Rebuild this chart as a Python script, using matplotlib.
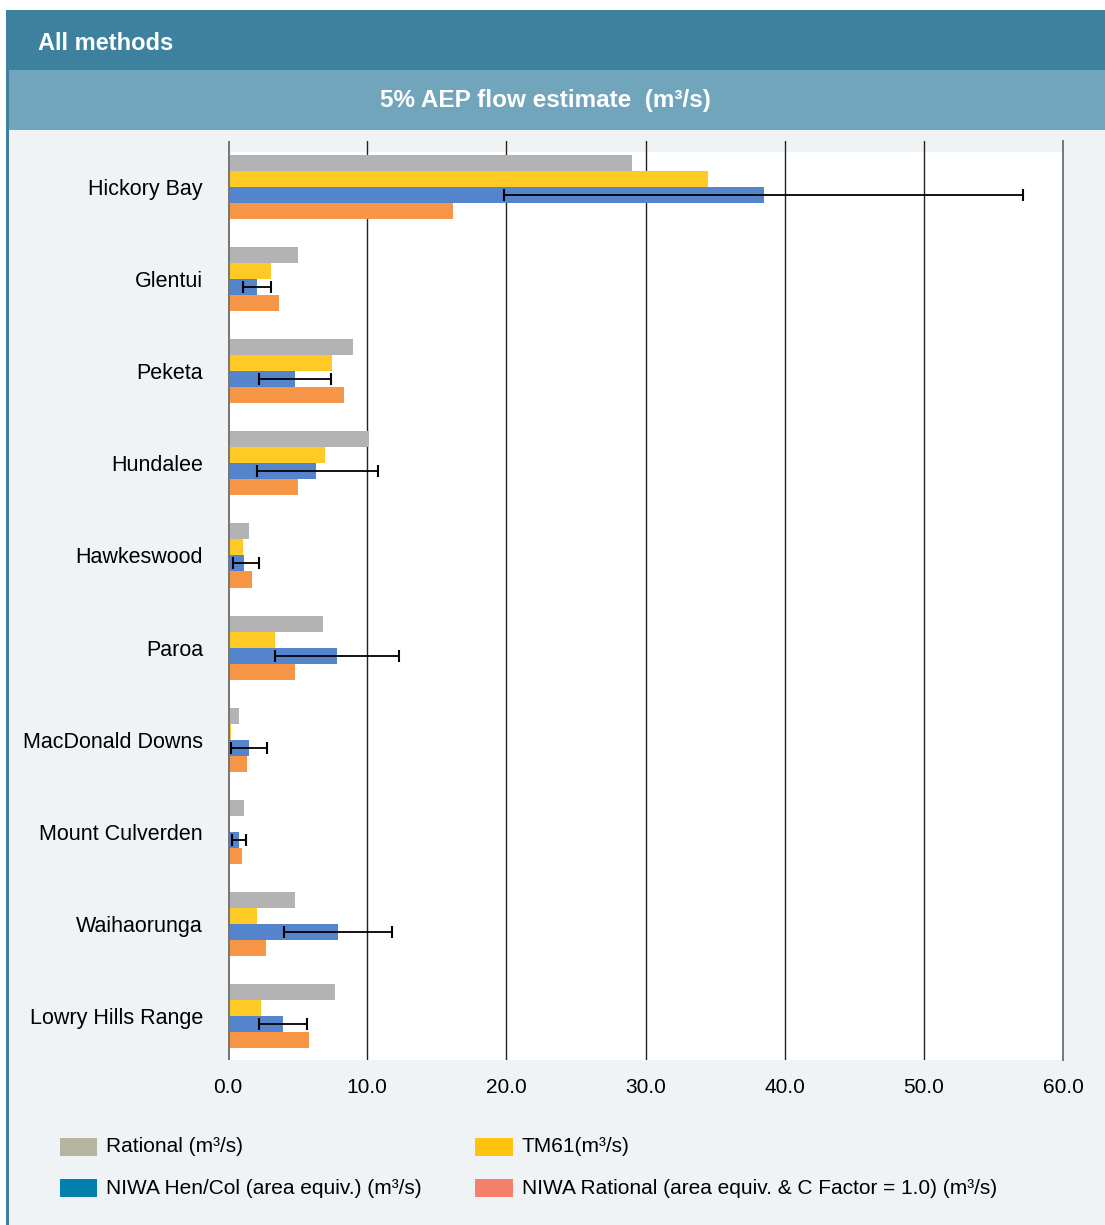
import numpy as np
import matplotlib.pyplot as plt
from matplotlib.patches import Rectangle

plt.rcParams['font.family'] = ['Liberation Sans', 'DejaVu Sans']

# %% data
sites = ["Hickory Bay", "Glentui", "Peketa", "Hundalee", "Hawkeswood",
         "Paroa", "MacDonald Downs", "Mount Culverden", "Waihaorunga",
         "Lowry Hills Range"]
rational = [29.0, 5.0, 9.0, 10.1, 1.5, 6.8, 0.8, 1.15, 4.8, 7.7]
tm61 = [34.5, 3.1, 7.5, 7.0, 1.1, 3.4, 0.2, 0.0, 2.1, 2.4]
niwa_hencol = [38.5, 2.1, 4.8, 6.3, 1.15, 7.8, 1.5, 0.8, 7.9, 3.95]
niwa_hencol_lo = [19.8, 1.1, 2.2, 2.1, 0.35, 3.4, 0.2, 0.3, 4.0, 2.2]
niwa_hencol_hi = [57.1, 3.1, 7.4, 10.8, 2.2, 12.3, 2.8, 1.3, 11.8, 5.7]
niwa_rational = [16.2, 3.7, 8.3, 5.0, 1.7, 4.8, 1.4, 1.0, 2.7, 5.8]

legend_labels = ["Rational (m³/s)", "TM61(m³/s)",
                 "NIWA Hen/Col (area equiv.) (m³/s)",
                 "NIWA Rational (area equiv. & C Factor = 1.0) (m³/s)"]
xticks = [0, 10, 20, 30, 40, 50, 60]

bar_colors = ["#b3b3b3", "#ffc926", "#5384cc", "#f79646"]
legend_colors = ["#b4b4a0", "#ffc20e", "#0080aa", "#f47f6a"]

# %% figure
W, H = 1105, 1225
fig = plt.figure(figsize=(W / 100, H / 100), dpi=100)
fig.patch.set_facecolor("white")


def fx(px):
    return px / W


def fy(py):
    return 1 - py / H


# background panels
fig.patches.append(Rectangle((fx(6), 0), fx(W - 6), fy(10), transform=fig.transFigure,
                             facecolor="#eff3f6", edgecolor="none", zorder=0))
fig.patches.append(Rectangle((fx(6), 0), fx(2.5), fy(10), transform=fig.transFigure,
                             facecolor="#3d819f", edgecolor="none", zorder=1))
fig.patches.append(Rectangle((fx(6), fy(70)), fx(W - 6), fy(10) - fy(70), transform=fig.transFigure,
                             facecolor="#3d819f", edgecolor="none", zorder=1))
fig.patches.append(Rectangle((fx(8.5), fy(130)), fx(W - 8.5), fy(70) - fy(130), transform=fig.transFigure,
                             facecolor="#70a5bb", edgecolor="none", zorder=1))
fig.text(fx(38), fy(43), "All methods", color="white", fontsize=17,
         fontweight="bold", va="center", ha="left")
fig.text(fx(545), fy(100), "5% AEP flow estimate  (m³/s)", color="white", fontsize=17.5,
         fontweight="bold", va="center", ha="center")

# %% axes
ax_top, ax_bot, ax_left, ax_right = 141, 1060, 228, 1063
ax = fig.add_axes([fx(ax_left), fy(ax_bot), fx(ax_right - ax_left), fy(ax_top) - fy(ax_bot)])
ax.set_facecolor("none")
ax.set_zorder(5)

y = np.arange(len(sites))
h = 0.174
series = [rational, tm61, niwa_hencol, niwa_rational]
for i, (vals, col) in enumerate(zip(series, bar_colors)):
    ax.barh(y + (i - 1.5) * h, vals, height=h, color=col, edgecolor="none", zorder=2)

blue = np.array(niwa_hencol)
xerr = [blue - np.array(niwa_hencol_lo), np.array(niwa_hencol_hi) - blue]
ax.errorbar(blue, y + 0.5 * h, xerr=xerr, fmt="none", ecolor="black",
            elinewidth=1.3, capsize=4, capthick=1.5, zorder=4)

ax.set_xlim(0, 60)
ax.set_ylim(9.478, -0.5)
ax.axhspan(-0.38, 9.478, color="white", zorder=0)

for xv in xticks:
    if xv == 0:
        ax.axvline(xv, color="#777777", lw=2.2, zorder=3)
    elif xv == 60:
        ax.axvline(xv, color="#777777", lw=1.4, zorder=3, clip_on=False)
    else:
        ax.axvline(xv, color="#222222", lw=1.0, zorder=1)

for s in ax.spines.values():
    s.set_visible(False)

ax.set_xticks(xticks)
ax.set_xticklabels([f"{v:.1f}" for v in xticks], fontsize=15)
ax.set_yticks(y)
ax.set_yticklabels(sites, fontsize=15.5)
ax.tick_params(axis="x", length=0, pad=13)
ax.tick_params(axis="y", length=0, pad=18)

# %% legend
patch_x = [(60, 97), (475, 513), (60, 97), (475, 513)]
text_x = [106, 522, 106, 522]
row_y = [1147, 1147, 1188, 1188]
for (p0, p1), tx, ry, lab, col in zip(patch_x, text_x, row_y, legend_labels, legend_colors):
    fig.patches.append(Rectangle((fx(p0), fy(ry + 9)), fx(p1 - p0), fy(ry - 9) - fy(ry + 9),
                                 transform=fig.transFigure, facecolor=col, edgecolor="none", zorder=2))
    fig.text(fx(tx), fy(ry), lab, fontsize=15, va="center", ha="left")

fig.savefig("out.png", dpi=100)
